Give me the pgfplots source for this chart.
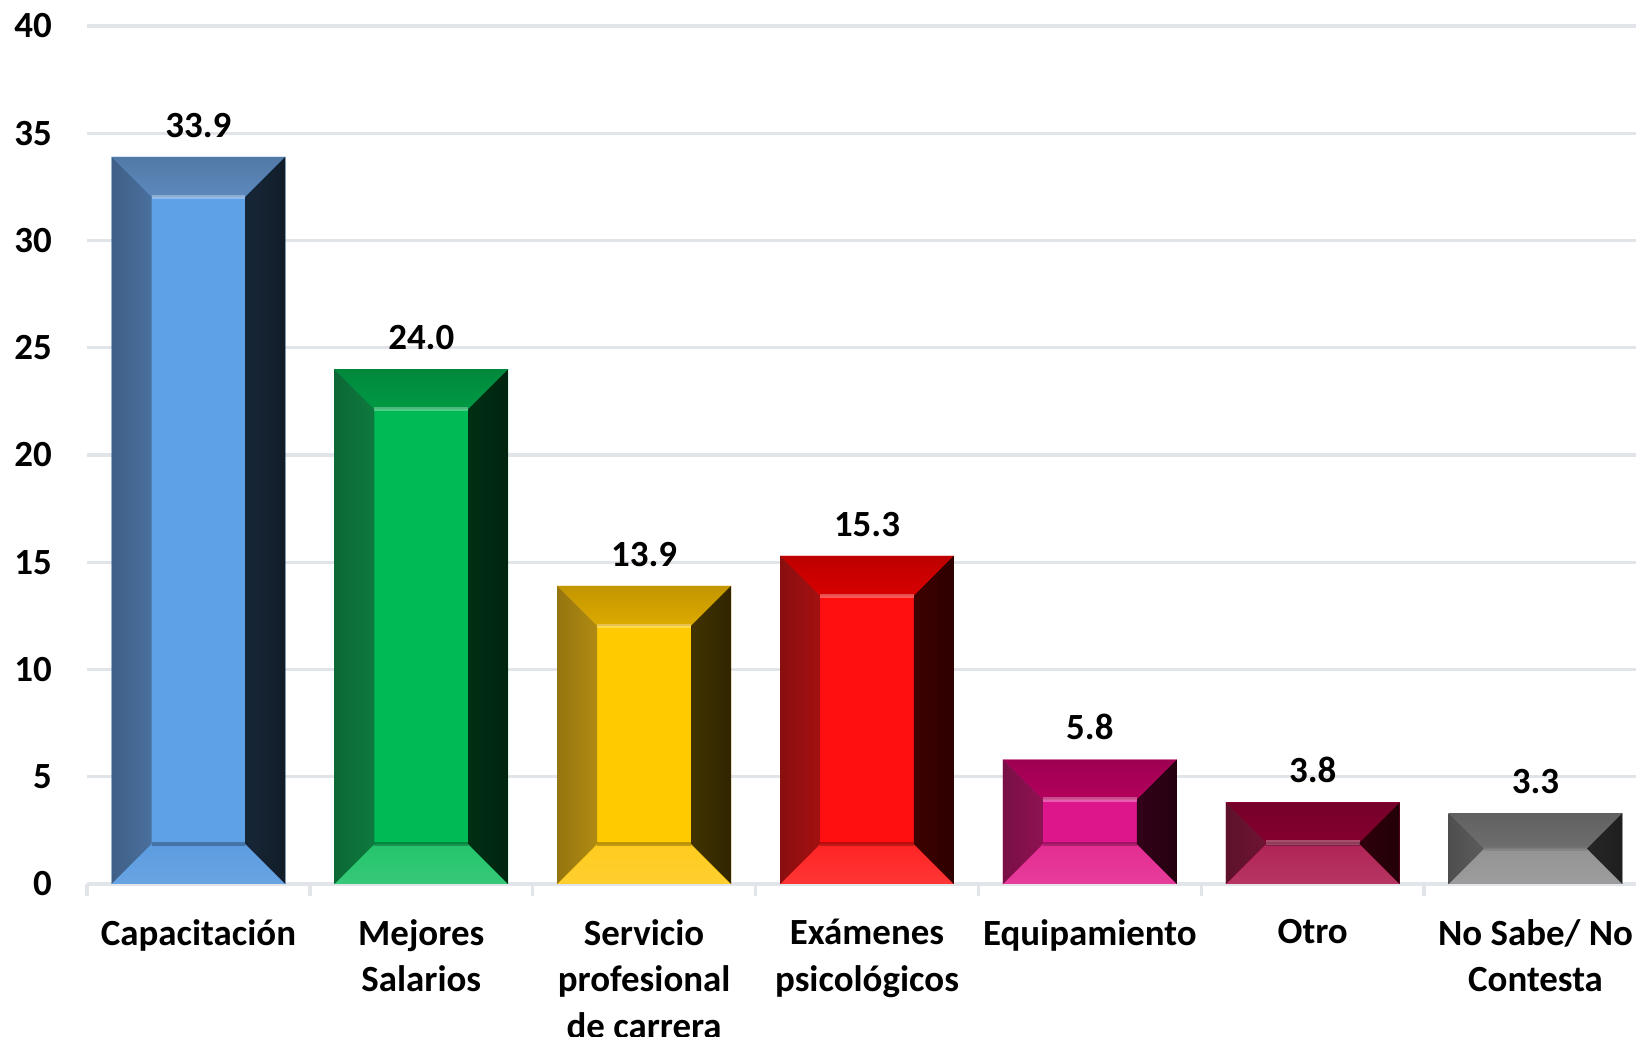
\documentclass[border=0pt]{standalone}
\usepackage{pgfplots}
\pgfplotsset{compat=1.18}
\usepackage{fontspec}
\setmainfont{Carlito}

\definecolor{gridc}{HTML}{E1E4E9}
% centre, top, left, right, bottom
\definecolor{bC}{HTML}{5EA1E6}\definecolor{bT}{HTML}{5D89BD}\definecolor{bL}{HTML}{4A709E}\definecolor{bR}{HTML}{111C28}\definecolor{bB}{HTML}{5C9CE0}
\definecolor{gC}{HTML}{00BA55}\definecolor{gT}{HTML}{009A44}\definecolor{gL}{HTML}{0E7A3F}\definecolor{gR}{HTML}{00240F}\definecolor{gB}{HTML}{25C46C}
\definecolor{yC}{HTML}{FFCA00}\definecolor{yT}{HTML}{DDAA00}\definecolor{yL}{HTML}{B08A12}\definecolor{yR}{HTML}{302500}\definecolor{yB}{HTML}{FFCB1E}
\definecolor{rC}{HTML}{FF0F0F}\definecolor{rT}{HTML}{D80000}\definecolor{rL}{HTML}{A31111}\definecolor{rR}{HTML}{2D0000}\definecolor{rB}{HTML}{FF2424}
\definecolor{mC}{HTML}{DE168C}\definecolor{mT}{HTML}{B3005C}\definecolor{mL}{HTML}{8E1252}\definecolor{mR}{HTML}{24000F}\definecolor{mB}{HTML}{E42C92}
\definecolor{cC}{HTML}{B5003F}\definecolor{cT}{HTML}{85002F}\definecolor{cL}{HTML}{6E1432}\definecolor{cR}{HTML}{230008}\definecolor{cB}{HTML}{B02456}
\definecolor{kC}{HTML}{8A8A8A}\definecolor{kT}{HTML}{6E6E6E}\definecolor{kL}{HTML}{5C5C5C}\definecolor{kR}{HTML}{1E1E1E}\definecolor{kB}{HTML}{949494}

% bevel facets, drawn as a mark at the top centre of each bar
% 0.2145 cm per y unit (8.58cm/40), half bar 0.8691 cm (0.39*15.6cm/7)
\pgfdeclareplotmark{bevel}{%
  \pgfmathsetmacro\bh{\rawy*0.2145}%
  \pgfmathsetmacro\bd{min(0.4,\bh/2)}%
  \def\bw{0.8691}%
  \colorlet{fC}{\bvn C}\colorlet{fT}{\bvn T}\colorlet{fL}{\bvn L}%
  \colorlet{fR}{\bvn R}\colorlet{fB}{\bvn B}%
  \fill[top color=fT!88!black, bottom color=fT]
    ({-\bw cm},0cm) -- ({\bw cm},0cm) -- ({\bw cm-\bd cm},{-\bd cm}) -- ({-\bw cm+\bd cm},{-\bd cm}) -- cycle;
  \fill[top color=fB, bottom color=fB!92!white]
    ({-\bw cm},{-\bh cm}) -- ({\bw cm},{-\bh cm}) -- ({\bw cm-\bd cm},{-\bh cm+\bd cm}) -- ({-\bw cm+\bd cm},{-\bh cm+\bd cm}) -- cycle;
  \fill[left color=fL!85!black, right color=fL]
    ({-\bw cm},0cm) -- ({-\bw cm+\bd cm},{-\bd cm}) -- ({-\bw cm+\bd cm},{-\bh cm+\bd cm}) -- ({-\bw cm},{-\bh cm}) -- cycle;
  \fill[left color=fR!92!fC, right color=fR]
    ({\bw cm},0cm) -- ({\bw cm-\bd cm},{-\bd cm}) -- ({\bw cm-\bd cm},{-\bh cm+\bd cm}) -- ({\bw cm},{-\bh cm}) -- cycle;
  \draw[white, opacity=0.3, line width=1.3pt]
    ({-\bw cm+\bd cm},{-\bd cm}) -- ({\bw cm-\bd cm},{-\bd cm});
  \draw[black, opacity=0.25, line width=1.3pt]
    ({-\bw cm+\bd cm},{-\bh cm+\bd cm}) -- ({\bw cm-\bd cm},{-\bh cm+\bd cm});
}

\begin{document}
\begin{tikzpicture}
\begin{axis}[
  at={(0,0)}, anchor=south west,
  scale only axis, width=15.6cm, height=8.58cm,
  ybar, bar width=0.78, bar shift=0pt,
  xmin=-0.5, xmax=6.5, ymin=0, ymax=40,
  ytick={0,5,...,40},
  xtick={0,...,6},
  xticklabels={Capacitación,{Mejores\\Salarios},{Servicio\\profesional\\de carrera},{Exámenes\\psicológicos},Equipamiento,Otro,{No Sabe/ No\\Contesta}},
  minor xtick={-0.5,0.5,1.5,2.5,3.5,4.5,5.5,6.5},
  major tick length=0pt, minor tick length=0.12cm,
  tick align=outside, xtick pos=bottom, ytick pos=left,
  minor tick style={draw=gridc, line width=1pt},
  axis lines*=left,
  y axis line style={draw=none},
  x axis line style={draw=gridc, line width=1pt, -},
  ymajorgrids, grid style={draw=gridc, line width=0.9pt},
  /pgf/number format/assume math mode=true,
  ticklabel style={font=\fontsize{10.5}{13.3}\selectfont\bfseries},
  yticklabel style={xshift=-6.5pt},
  xticklabel style={align=center, yshift=-6.5pt},
  every axis plot post/.append style={draw=none, scatter, mark=bevel,
    visualization depends on=y \as \rawy},
  nodes near coords={\pgfmathprintnumber[fixed,fixed zerofill,precision=1]{\pgfplotspointmeta}},
  nodes near coords style={font=\fontsize{10.5}{13.3}\selectfont\bfseries, yshift=2pt, text=black},
]
\addplot[fill=bC, /utils/exec={\def\bvn{b}}] coordinates {(0,33.9)};
\addplot[fill=gC, /utils/exec={\def\bvn{g}}] coordinates {(1,24.0)};
\addplot[fill=yC, /utils/exec={\def\bvn{y}}] coordinates {(2,13.9)};
\addplot[fill=rC, /utils/exec={\def\bvn{r}}] coordinates {(3,15.3)};
\addplot[fill=mC, /utils/exec={\def\bvn{m}}] coordinates {(4,5.8)};
\addplot[fill=cC, /utils/exec={\def\bvn{c}}] coordinates {(5,3.8)};
\addplot[fill=kC, /utils/exec={\def\bvn{k}}] coordinates {(6,3.3)};
\end{axis}
\pgfresetboundingbox
\path[use as bounding box] (-0.87cm,-1.53cm) rectangle (15.49cm,8.84cm);
\end{tikzpicture}
\end{document}
